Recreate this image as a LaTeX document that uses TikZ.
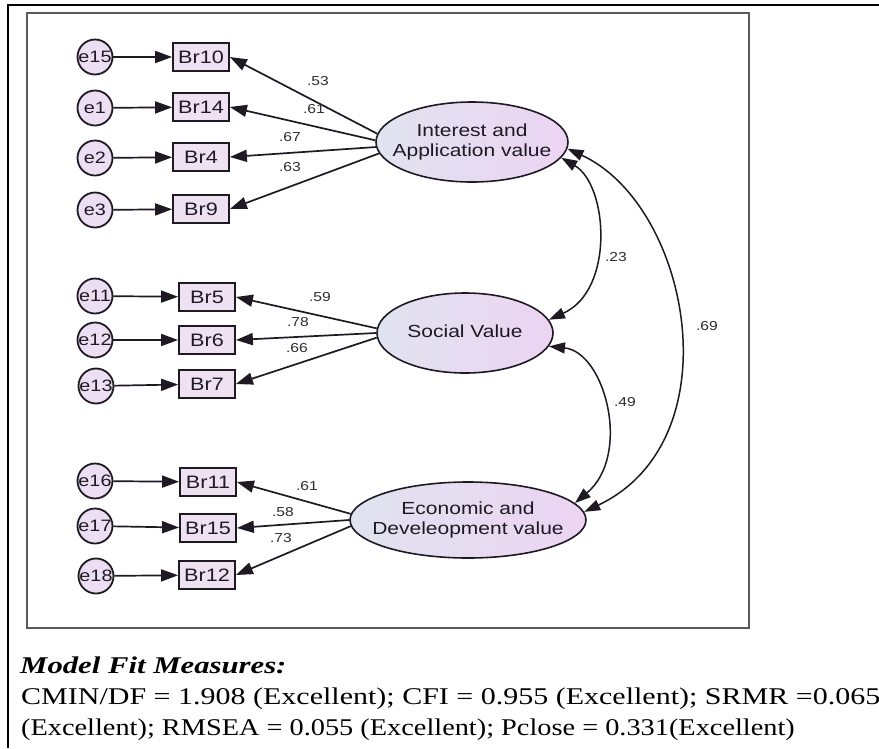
\documentclass[tikz,border=0pt]{standalone}
\usepackage{fontspec}
\setmainfont{Liberation Serif}
\newfontfamily\diagfont[FakeStretch=1.2]{Liberation Sans}
\usetikzlibrary{arrows.meta,shapes.geometric}

\definecolor{latL}{RGB}{224,227,240}
\definecolor{latR}{RGB}{236,212,242}
\definecolor{obsfill}{RGB}{238,226,242}
\definecolor{errfill}{RGB}{236,222,243}
\definecolor{framegray}{RGB}{90,90,90}
\definecolor{coefgray}{RGB}{45,45,45}
\definecolor{inkdark}{RGB}{30,25,35}

% two-line caption that does not widen its ellipse
\newcommand{\latcap}[1]{\makebox[0pt]{\begin{tabular}{@{}c@{}}#1\end{tabular}}}

\tikzset{
  errnode/.style={circle, draw=inkdark, line width=1.8pt, fill=errfill,
    minimum size=35pt, inner sep=0pt, text=inkdark,
    font=\diagfont\fontsize{16.5}{17}\selectfont},
  obsbox/.style={rectangle, draw=inkdark, line width=1.8pt, fill=obsfill,
    minimum width=56pt, minimum height=28pt, inner sep=0pt, text=inkdark,
    font=\diagfont\fontsize{18}{19}\selectfont},
  latent/.style={ellipse, draw=inkdark, line width=1.6pt, left color=latL,
    right color=latR, inner sep=0pt, text=inkdark,
    font=\diagfont\fontsize{17.5}{20}\selectfont},
  regarrow/.style={line width=1.7pt, draw=inkdark, -{Triangle[length=17pt,width=12pt]}},
  covarrow/.style={line width=1.5pt, draw=inkdark,
    {Triangle[length=16pt,width=11pt]}-{Triangle[length=16pt,width=11pt]}},
  coef/.style={font=\diagfont\fontsize{13}{14}\selectfont, text=coefgray, inner sep=0pt},
  fittext/.style={anchor=base west, inner sep=0pt, font=\fontsize{24}{28}\selectfont}
}

\begin{document}
\begin{tikzpicture}[x=1pt, y=-1pt]
\clip (0,0) rectangle (879,748);
\fill[white] (0,0) rectangle (879,748);

% outer page border and diagram frame
\draw[line width=1.2pt] (8,748) -- (8,5) -- (879,5);
\draw[framegray, line width=2pt] (27,13) rectangle (749,628);

% latent factors
\node[latent, minimum width=192pt, minimum height=80pt] (I) at (472,142)
  {\latcap{Interest and\\Application value}};
\node[latent, minimum width=176pt, minimum height=80pt] (S) at (465,333)
  {\latcap{Social Value}};
\node[latent, minimum width=236pt, minimum height=76pt] (E) at (468,520)
  {\latcap{Economic and\\Develeopment value}};

% observed indicators
\node[obsbox] (b10) at (201,57)  {Br10};
\node[obsbox] (b14) at (201,107) {Br14};
\node[obsbox] (b4)  at (201,157) {Br4};
\node[obsbox] (b9)  at (201,209) {Br9};
\node[obsbox] (b5)  at (207,297) {Br5};
\node[obsbox] (b6)  at (207,340) {Br6};
\node[obsbox] (b7)  at (207,384) {Br7};
\node[obsbox] (b11) at (208,482) {Br11};
\node[obsbox] (b15) at (208,528) {Br15};
\node[obsbox] (b12) at (207,575) {Br12};

% error terms
\node[errnode] (e15) at (95,57)  {e15};
\node[errnode] (e1)  at (95,108) {e1};
\node[errnode] (e2)  at (95,158) {e2};
\node[errnode] (e3)  at (95,210) {e3};
\node[errnode] (e11) at (95,296) {e11};
\node[errnode] (e12) at (95,340) {e12};
\node[errnode] (e13) at (96,386) {e13};
\node[errnode] (e16) at (95,481) {e16};
\node[errnode] (e17) at (95,526) {e17};
\node[errnode] (e18) at (96,576) {e18};

% error -> indicator
\foreach \e/\b in {e15/b10,e1/b14,e2/b4,e3/b9,e11/b5,e12/b6,e13/b7,e16/b11,e17/b15,e18/b12}
  \draw[regarrow] (\e) -- (\b);

% factor loadings
\draw[regarrow] (I.175) -- (b10.east);
\draw[regarrow] (I.179) -- (b14.east);
\draw[regarrow] (I.183) -- (b4.east);
\draw[regarrow] (I.187) -- (b9.east);
\draw[regarrow] (S.177) -- (b5.east);
\draw[regarrow] (S.180) -- (b6.east);
\draw[regarrow] (S.183) -- (b7.east);
\draw[regarrow] (E.177) -- (b11.east);
\draw[regarrow] (E.180) -- (b15.east);
\draw[regarrow] (E.183) -- (b12.east);

\node[coef] (l53) at (318,81)  {.53};
\node[coef] (l61a) at (314,109) {.61};
\node[coef] (l67) at (290,137) {.67};
\node[coef] (l63) at (290,167) {.63};
\node[coef] (l59) at (320,297) {.59};
\node[coef] (l78) at (298,322) {.78};
\node[coef] (l66) at (297,348) {.66};
\node[coef] (l61b) at (307,486) {.61};
\node[coef] (l58) at (283,512) {.58};
\node[coef] (l73) at (281,538) {.73};

% factor covariances
\draw[covarrow] (I.-10) .. controls (608,185) and (615,290) .. (S.9);
\draw[covarrow] (S.-9) .. controls (605,352) and (632,455) .. (E.9);
\draw[covarrow] (I.-4) .. controls (690,205) and (735,440) .. (E.4);
\node[coef] (c23) at (616,257) {.23};
\node[coef] (c49) at (625,402) {.49};
\node[coef] (c69) at (707,326) {.69};

% fit statistics
\node[fittext] (fit) at (20,673)
  {\scalebox{1.28}[1]{\bfseries\itshape Model Fit Measures:}};
\node[fittext] (fit1) at (21,704)
  {\scalebox{1.25}[1]{CMIN/DF = 1.908 (Excellent); CFI = 0.955 (Excellent); SRMR =0.065}};
\node[fittext] (fit2) at (21,735)
  {\scalebox{1.18}[1]{(Excellent); RMSEA = 0.055 (Excellent); Pclose = 0.331(Excellent)}};
\end{tikzpicture}
\end{document}
